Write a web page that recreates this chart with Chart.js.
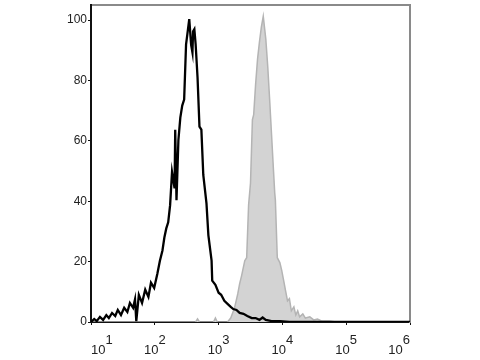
<!DOCTYPE html>
<html>
<head>
<meta charset="utf-8">
<script src="https://cdn.jsdelivr.net/npm/chart.js@4.4.1/dist/chart.umd.min.js"></script>
<style>
  html, body { margin: 0; padding: 0; background: #fff; }
  #wrap { width: 480px; height: 360px; }
</style>
</head>
<body>
<div id="wrap"><canvas id="histo" width="480" height="360"></canvas></div>
<script>
// x values are log10 of fluorescence intensity, y values are % of max
var controlX = [1.00, 1.05, 1.09, 1.14, 1.19, 1.24, 1.28, 1.33, 1.38, 1.42, 1.47, 1.52, 1.57, 1.61,
  1.66, 1.69, 1.71, 1.75, 1.80, 1.85, 1.90, 1.94, 1.99, 2.04, 2.08, 2.12, 2.15, 2.18, 2.21, 2.24,
  2.27, 2.31, 2.32, 2.34, 2.37, 2.40, 2.43, 2.46, 2.49, 2.51, 2.54, 2.57, 2.59, 2.60, 2.62, 2.64,
  2.67, 2.70, 2.73, 2.76, 2.81, 2.84, 2.89, 2.90, 2.95, 3.00, 3.04, 3.09, 3.14, 3.19, 3.23, 3.28,
  3.33, 3.39, 3.45, 3.52, 3.58, 3.64, 3.69, 3.74, 3.83, 3.96, 4.11, 4.27, 5.06, 6.00];
var controlY = [0, 1, 0.3, 1.7, 0.7, 2.3, 1.3, 3, 2, 4, 2.3, 4.7, 3.3, 6.3,
  4.7, 7.5, 0.3, 9, 6.3, 10.7, 8.3, 13, 11.3, 16, 20.3, 23.7, 28, 31, 33, 38.7,
  49.7, 44.3, 63.7, 40.3, 60.3, 67.7, 71.7, 73.7, 92, 95.3, 100.3, 91.7, 89.3, 96.3, 97, 92,
  81, 64.7, 63.7, 48.7, 39.3, 28.7, 20.3, 13.7, 12.3, 9.7, 9, 7, 6, 5, 4.3, 4,
  3, 2.7, 2, 1.3, 1.3, 0.7, 1.5, 0.7, 0.3, 0.3, 0, 0, 0, 0];

var stainedX = [1.00, 2.64, 2.67, 2.70, 2.92, 2.95, 2.98, 3.14, 3.19, 3.22, 3.25, 3.30, 3.33, 3.36,
  3.41, 3.44, 3.47, 3.50, 3.53, 3.55, 3.58, 3.61, 3.64, 3.67, 3.70, 3.74, 3.77, 3.80, 3.83, 3.86,
  3.88, 3.89, 3.92, 3.96, 3.99, 4.02, 4.05, 4.08, 4.11, 4.14, 4.18, 4.21, 4.24, 4.27, 4.32, 4.36,
  4.43, 4.49, 4.55, 4.62, 4.74, 4.84, 6.00];
var stainedY = [0, 0, 1, 0, 0, 1.3, 0, 0, 1.3, 3, 4.7, 9.3, 12.7, 15.3,
  20.3, 21.3, 38.7, 46, 67, 68.7, 78.7, 87, 92.7, 97.7, 101.3, 93.7, 84.7, 73.7, 62, 50.3,
  42.7, 40.3, 21.3, 19.7, 17, 13.7, 10.3, 7, 7.7, 3.7, 5, 2.3, 3.7, 1.7, 2.7, 1.3,
  1.7, 0.7, 1, 0.3, 0.3, 0, 0];

var xTicks = [1, 2, 3, 4, 5, 6];
var yTicks = [0, 20, 40, 60, 80, 100];

function pts(xs, ys) {
  return xs.map(function (x, i) { return { x: x, y: ys[i] }; });
}

var tickFont = { family: "'Liberation Sans', Arial, sans-serif", size: 13, lineHeight: 0.8 };

new Chart(document.getElementById("histo"), {
  type: "line",
  data: {
    datasets: [{
      label: "control",
      data: pts(controlX, controlY),
      borderColor: "#000",
      borderWidth: 2.3,
      pointRadius: 0,
      tension: 0,
      fill: false
    }, {
      label: "stained",
      data: pts(stainedX, stainedY),
      borderColor: "#b4b4b4",
      backgroundColor: "#d3d3d3",
      borderWidth: 1.5,
      pointRadius: 0,
      tension: 0,
      fill: "origin"
    }]
  },
  options: {
    responsive: false,
    animation: false,
    layout: { padding: 0 },
    plugins: { legend: { display: false }, tooltip: { enabled: false } },
    scales: {
      x: {
        type: "linear",
        position: "bottom",
        min: 1,
        max: 6,
        afterBuildTicks: function (s) { s.ticks = xTicks.map(function (v) { return { value: v }; }); },
        afterFit: function (s) { s.height = 38; s.paddingLeft = 0; s.paddingRight = 0; },
        border: { color: "#111", width: 2 },
        grid: { drawOnChartArea: false, tickLength: 3, color: "#111" },
        ticks: {
          align: "inner",
          autoSkip: false,
          maxRotation: 0,
          padding: 10,
          color: "#222",
          font: tickFont,
          callback: function (v) { return ["    " + v, "10  "]; }
        }
      },
      x2: {
        type: "linear",
        position: "top",
        display: true,
        afterFit: function (s) { s.height = 5; s.paddingLeft = 0; s.paddingRight = 0; },
        border: { color: "#8a8a8a", width: 2 },
        grid: { display: false },
        ticks: { display: false }
      },
      y: {
        type: "linear",
        position: "left",
        min: 0,
        max: 105,
        afterBuildTicks: function (s) { s.ticks = yTicks.map(function (v) { return { value: v }; }); },
        afterFit: function (s) { s.width = 91; s.paddingTop = 0; s.paddingBottom = 0; },
        border: { color: "#111", width: 2 },
        grid: { drawOnChartArea: false, tickLength: 3, color: "#111" },
        ticks: {
          padding: 1,
          color: "#222",
          font: { family: "'Liberation Sans', Arial, sans-serif", size: 12 }
        }
      },
      y2: {
        type: "linear",
        position: "right",
        display: true,
        afterFit: function (s) { s.width = 70; s.paddingTop = 0; s.paddingBottom = 0; },
        border: { color: "#8a8a8a", width: 2 },
        grid: { display: false },
        ticks: { display: false }
      }
    }
  }
});
</script>
</body>
</html>
